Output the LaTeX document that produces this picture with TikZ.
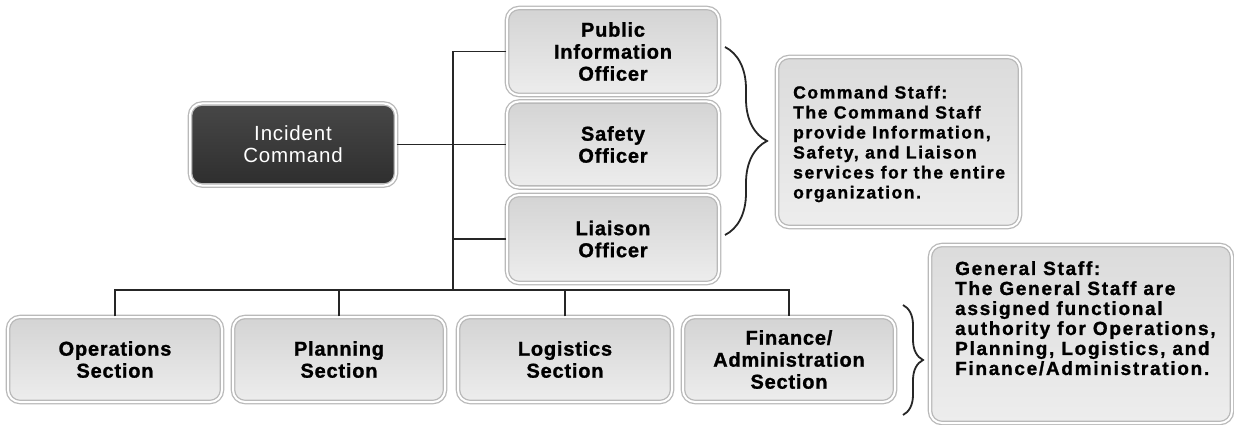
\documentclass[tikz,border=0pt]{standalone}
\usepackage{fontspec}
\setmainfont{Liberation Sans}
\newfontfamily\boxfont[LetterSpace=4,BoldFeatures={FakeBold=1.2}]{Liberation Sans}
\newfontfamily\notefont[LetterSpace=9,BoldFeatures={FakeBold=1.2}]{Liberation Sans}
\usetikzlibrary{decorations.pathreplacing,calc}

\begin{document}
\begin{tikzpicture}[x=1pt,y=-1pt,
  boxbase/.style={rounded corners=12pt, draw=gray!55, double=white,
    double distance=2pt, line width=1.3pt, inner sep=0pt, align=center},
  unitbox/.style={boxbase, top color=gray!34, bottom color=gray!14,
    text=black, font=\boxfont\bfseries\fontsize{20}{22}\selectfont},
  headbox/.style={boxbase, top color=black!72, bottom color=black!82,
    text=white, font=\boxfont\fontsize{20.5}{22}\selectfont},
  staffbox/.style={boxbase, top color=gray!28, bottom color=gray!14},
  stafftext/.style={inner sep=0pt, align=left, text=black,
    font=\notefont\bfseries\fontsize{19}{20}\selectfont},
  link/.style={draw=black!85, line width=1.6pt},
  bracket/.style={draw=black!85, line width=1.8pt, decorate}
]
\useasboundingbox[fill=white] (0,0) rectangle (1234,425);

% Incident command
\node[headbox, minimum width=206pt, minimum height=82pt] (ic) at (293,144.5)
  {Incident\\Command};

% Command staff
\node[unitbox, minimum width=212pt, minimum height=87pt] (pio) at (613,51.5)
  {Public\\Information\\Officer};
\node[unitbox, minimum width=212pt, minimum height=86pt] (saf) at (613,144.5)
  {Safety\\Officer};
\node[unitbox, minimum width=212pt, minimum height=88pt] (lia) at (613,239)
  {Liaison\\Officer};

% General staff
\node[unitbox, minimum width=214pt, minimum height=85pt] (ops) at (115,359.5)
  {Operations\\Section};
\node[unitbox, minimum width=212pt, minimum height=85pt] (plan) at (339,359.5)
  {Planning\\Section};
\node[unitbox, minimum width=214pt, minimum height=85pt] (log) at (565,359.5)
  {Logistics\\Section};
\node[unitbox, minimum width=212pt, minimum height=85pt] (fin) at (789,359.5)
  {Finance/\\Administration\\Section};

% Junctions of the tree
\coordinate (jbus) at (453,290);

\draw[link] (ic.east) -- (saf.west);
\draw[link] (pio.west) -| (jbus);
\draw[link] (lia.west) -- (lia.west -| jbus);
\draw[link] (ops.north) |- (jbus) -| (fin.north);
\draw[link] (plan.north) -- (plan.north |- jbus);
\draw[link] (log.north) -- (log.north |- jbus);

% Explanatory boxes
\node[staffbox, minimum width=243pt, minimum height=170pt] (cs) at (898.5,142) {};
\node[stafftext, anchor=west, font=\notefont\bfseries\fontsize{17.5}{20}\selectfont]
  (cstext) at (793,144)
  {Command Staff:\\The Command Staff\\provide Information,\\Safety, and Liaison\\services for the entire\\organization.};

\node[staffbox, minimum width=302pt, minimum height=178pt] (gs) at (1081,334) {};
\node[stafftext, anchor=north west] (gstext) at (955,261)
  {General Staff:\\The General Staff are\\assigned functional\\authority for Operations,\\Planning, Logistics, and\\Finance/Administration.};

% Braces
\coordinate (csbt) at (725,47);
\coordinate (csbb) at (725,235);
\draw[bracket, decoration={brace, amplitude=42pt}] (csbt) -- (csbb);
\coordinate (gsbt) at (903,305);
\coordinate (gsbb) at (903,415);
\draw[bracket, decoration={brace, amplitude=20pt}] (gsbt) -- (gsbb);
\end{tikzpicture}
\end{document}
